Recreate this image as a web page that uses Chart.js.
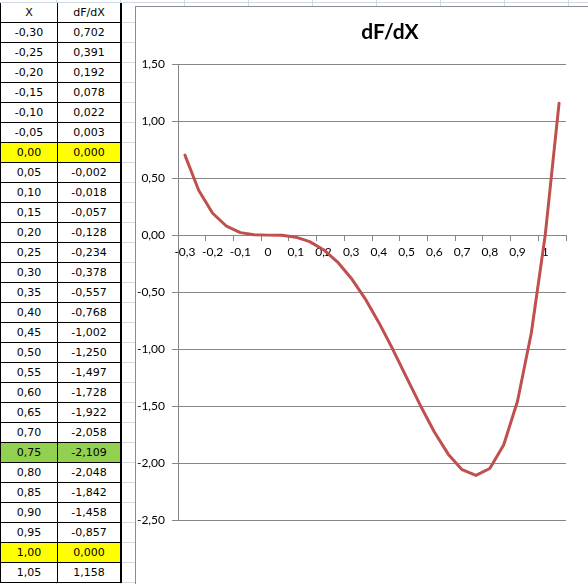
<!DOCTYPE html>
<html>
<head>
<meta charset="utf-8">
<script src="https://cdn.jsdelivr.net/npm/chart.js@4/dist/chart.umd.min.js"></script>
<style>
  html, body { margin: 0; padding: 0; overflow: hidden; background: #fff; }
  #sheet {
    position: absolute; left: 0; top: 0; width: 588px; height: 584px;
    background-image: linear-gradient(to bottom, #d0d7e5 1px, transparent 1px),
                      linear-gradient(to right, #d0d7e5 1px, transparent 1px);
    background-size: 100% 20px, 64px 100%;
    background-position: 0 2px, 56px 0;
  }
  #tbl {
    position: absolute; left: 0; top: 3px;
    border-collapse: separate; border-spacing: 0;
    font-family: "DejaVu Sans", sans-serif; font-size: 11px; color: #000;
    background: #fff;
  }
  #tbl td {
    height: 19px; padding: 0; text-align: center; line-height: 19px;
    border-right: 1px solid #000; border-bottom: 1px solid #000;
  }
  #tbl td.c1 { width: 56px; border-left: 1px solid #000; }
  #tbl td.c2 { width: 62px; border-right: 2px solid #000; }
  #tbl tr.yellow td { background: #ffff00; }
  #tbl tr.green td { background: #92d050; }
  #frame {
    position: absolute; left: 135px; top: 6px; width: 460px; height: 590px;
    border-left: 1px solid #8c8c8c; border-top: 1px solid #8c8c8c; background: #fff;
  }
  #wrap { position: absolute; left: 136px; top: 7px; width: 452px; height: 577px; overflow: hidden; }
</style>
</head>
<body>
<div id="sheet"></div>
<table id="tbl"></table>
<div id="frame"></div>
<div id="wrap"><canvas id="chart" width="508" height="577"></canvas></div>
<script>
var xValues = [-0.30, -0.25, -0.20, -0.15, -0.10, -0.05, 0.00, 0.05, 0.10, 0.15, 0.20, 0.25, 0.30, 0.35,
               0.40, 0.45, 0.50, 0.55, 0.60, 0.65, 0.70, 0.75, 0.80, 0.85, 0.90, 0.95, 1.00, 1.05];
var dFdX = [0.702, 0.391, 0.192, 0.078, 0.022, 0.003, 0.000, -0.002, -0.018, -0.057, -0.128, -0.234, -0.378, -0.557,
            -0.768, -1.002, -1.250, -1.497, -1.728, -1.922, -2.058, -2.109, -2.048, -1.842, -1.458, -0.857, 0.000, 1.158];
var yellowRows = [6, 26];
var greenRows = [21];
var yTicks = { min: -2.5, max: 1.5, step: 0.5 };

function comma(s) { return s.replace('.', ','); }

// spreadsheet table
var tbl = document.getElementById('tbl');
var html = '<tr><td class="c1">X</td><td class="c2">dF/dX</td></tr>';
for (var i = 0; i < xValues.length; i++) {
    var cls = yellowRows.indexOf(i) >= 0 ? 'yellow' : (greenRows.indexOf(i) >= 0 ? 'green' : '');
    html += '<tr class="' + cls + '"><td class="c1">' + comma(xValues[i].toFixed(2)) +
            '</td><td class="c2">' + comma(dFdX[i].toFixed(3)) + '</td></tr>';
}
tbl.innerHTML = html;

var axisGrey = '#868686';
var ctx = document.getElementById('chart').getContext('2d');
new Chart(ctx, {
    type: 'line',
    data: {
        labels: xValues.map(function (v) { return comma(String(Math.round(v * 100) / 100)); }),
        datasets: [{
            label: 'dF/dX',
            data: dFdX,
            borderColor: '#c0504d',
            borderWidth: 3,
            borderJoinStyle: 'round',
            borderCapStyle: 'round',
            pointRadius: 0,
            tension: 0,
            fill: false
        }]
    },
    options: {
        responsive: false,
        animation: false,
        layout: { padding: { left: 0, right: 0, top: 0, bottom: 64 } },
        font: { family: 'Lato' },
        scales: {
            x: {
                type: 'category',
                position: { y: 0 },
                offset: true,
                grid: {
                    offset: true,
                    drawOnChartArea: false,
                    drawTicks: true,
                    tickLength: 5,
                    tickColor: function (c) {
                        return (c.index === undefined || c.index % 2 === 0) ? axisGrey : 'rgba(0,0,0,0)';
                    }
                },
                border: { display: true, color: axisGrey, width: 1 },
                ticks: {
                    autoSkip: false,
                    maxRotation: 0,
                    padding: 5,
                    color: '#000',
                    font: { family: 'Lato', size: 12 },
                    callback: function (val, i) { return i % 2 === 0 ? this.getLabelForValue(val) : ''; }
                }
            },
            y: {
                min: yTicks.min,
                max: yTicks.max,
                afterFit: function (s) { s.width = 42; },
                grid: { color: axisGrey, tickLength: 6, drawTicks: true },
                border: { display: true, color: axisGrey },
                ticks: {
                    stepSize: yTicks.step,
                    padding: 7,
                    color: '#000',
                    font: { family: 'Lato', size: 12 },
                    callback: function (v) { return comma(v.toFixed(2)); }
                }
            },
            yr: {
                type: 'linear',
                position: 'right',
                afterFit: function (s) { s.width = 78; },
                grid: { display: false },
                border: { display: false },
                ticks: { display: false }
            }
        },
        plugins: {
            legend: { display: false },
            tooltip: { enabled: false },
            title: {
                display: true,
                text: 'dF/dX',
                color: '#000',
                font: { family: 'Lato', size: 21, weight: 'bold', lineHeight: 1.2 },
                padding: { top: 13, bottom: 19 }
            }
        }
    }
});
</script>
</body>
</html>
